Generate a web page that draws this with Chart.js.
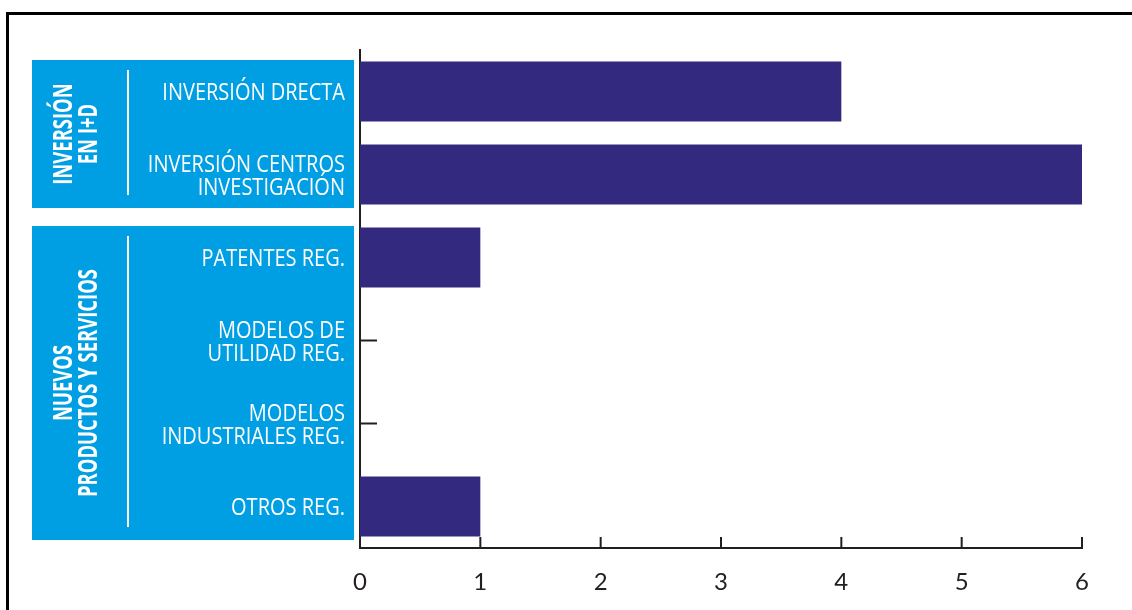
<!DOCTYPE html>
<html>
<head>
<meta charset="utf-8">
<script src="https://cdn.jsdelivr.net/npm/chart.js@4/dist/chart.umd.min.js"></script>
<style>
  html, body { margin: 0; padding: 0; background: #ffffff; }
  #wrap { width: 1132px; height: 610px; }
</style>
</head>
<body>
<div id="wrap"><canvas id="chart" width="1132" height="610"></canvas></div>
<script>
// data
const categories = [
  ['INVERSIÓN DRECTA'],
  ['INVERSIÓN CENTROS', 'INVESTIGACIÓN'],
  ['PATENTES REG.'],
  ['MODELOS DE', 'UTILIDAD REG.'],
  ['MODELOS', 'INDUSTRIALES REG.'],
  ['OTROS REG.']
];
const values = [4, 6, 1, 0, 0, 1];
const groupLabels = [
  ['INVERSIÓN', 'EN I+D'],
  ['NUEVOS', 'PRODUCTOS Y SERVICIOS']
];
const groupFirst = [0, 2];
const groupLast = [1, 5];
const xMin = 0;
const xMax = 6;

const BAR = '#332A80';
const PANEL = '#009FE3';
const INK = '#231F20';
const FONT = '"Open Sans", Lato, sans-serif';

// squeeze text horizontally, the original uses a condensed face
function drawText(ctx, text, x, y, sx) {
  ctx.save();
  ctx.translate(x, y);
  ctx.scale(sx, 1);
  ctx.fillText(text, 0, 0);
  ctx.restore();
}

const panelPlugin = {
  id: 'panels',
  beforeDraw(chart) {
    const ctx = chart.ctx;
    const y = chart.scales.y;
    const axisX = chart.chartArea.left;
    const band = (y.bottom - y.top) / categories.length;

    ctx.save();
    // frame
    ctx.strokeStyle = '#000000';
    ctx.lineWidth = 3;
    ctx.beginPath();
    ctx.moveTo(7.5, 620);
    ctx.lineTo(7.5, 13.5);
    ctx.lineTo(1140, 13.5);
    ctx.stroke();

    // blue boxes with group titles
    groupLabels.forEach((lines, g) => {
      const top = y.getPixelForValue(groupFirst[g]) - band / 2 + 10;
      const bottom = y.getPixelForValue(groupLast[g]) + band / 2 - 8;
      const left = 32;
      ctx.fillStyle = PANEL;
      ctx.fillRect(left, top, axisX - 6 - left, bottom - top);

      ctx.strokeStyle = '#ffffff';
      ctx.lineWidth = 2;
      ctx.beginPath();
      ctx.moveTo(128, top + 10);
      ctx.lineTo(128, bottom - 13);
      ctx.stroke();

      ctx.fillStyle = '#ffffff';
      ctx.font = 'bold 26px ' + FONT;
      ctx.textAlign = 'center';
      ctx.textBaseline = 'middle';
      const cy = (top + bottom) / 2;
      lines.forEach((line, i) => {
        ctx.save();
        ctx.translate(left + 33 + i * 25, cy);
        ctx.rotate(-Math.PI / 2);
        drawText(ctx, line, 0, 0, 0.71);
        ctx.restore();
      });
    });

    // category names
    ctx.fillStyle = '#ffffff';
    ctx.font = '23px ' + FONT;
    ctx.textAlign = 'right';
    ctx.textBaseline = 'middle';
    categories.forEach((lines, i) => {
      const cy = y.getPixelForValue(i) + 2;
      lines.forEach((line, k) => {
        const ly = cy + (k - (lines.length - 1) / 2) * 23;
        drawText(ctx, line, axisX - 15, ly, 0.87);
      });
    });

    // inward ticks on the category axis (hidden under the bars)
    ctx.strokeStyle = INK;
    ctx.lineWidth = 2;
    categories.forEach((_, i) => {
      const cy = y.getPixelForValue(i);
      ctx.beginPath();
      ctx.moveTo(axisX, cy);
      ctx.lineTo(axisX + 17, cy);
      ctx.stroke();
    });
    ctx.restore();
  },
  afterDatasetsDraw(chart) {
    const ctx = chart.ctx;
    const x = chart.scales.x;
    const base = chart.chartArea.bottom;
    ctx.save();
    ctx.strokeStyle = INK;
    ctx.lineWidth = 2;
    for (let v = xMin; v <= xMax; v++) {
      const px = x.getPixelForValue(v);
      ctx.beginPath();
      ctx.moveTo(px, base);
      ctx.lineTo(px, base - 11);
      ctx.stroke();
    }
    ctx.restore();
  }
};

new Chart(document.getElementById('chart').getContext('2d'), {
  type: 'bar',
  data: {
    labels: categories,
    datasets: [{
      data: values,
      backgroundColor: BAR,
      borderWidth: 0,
      barPercentage: 0.72,
      categoryPercentage: 1
    }]
  },
  options: {
    indexAxis: 'y',
    responsive: false,
    animation: false,
    layout: {
      padding: { left: 352, right: 50, top: 50, bottom: 0 }
    },
    plugins: {
      legend: { display: false },
      tooltip: { enabled: false }
    },
    scales: {
      x: {
        min: xMin,
        max: xMax,
        grid: { display: false },
        border: { display: true, color: INK, width: 2 },
        ticks: {
          stepSize: 1,
          color: INK,
          padding: 12,
          font: { family: 'Lato, sans-serif', size: 24 }
        },
        afterFit(scale) {
          scale.height = 62;
        }
      },
      y: {
        offset: true,
        grid: { display: false },
        border: { display: true, color: INK, width: 2 },
        ticks: { display: false }
      }
    }
  },
  plugins: [panelPlugin]
});
</script>
</body>
</html>
